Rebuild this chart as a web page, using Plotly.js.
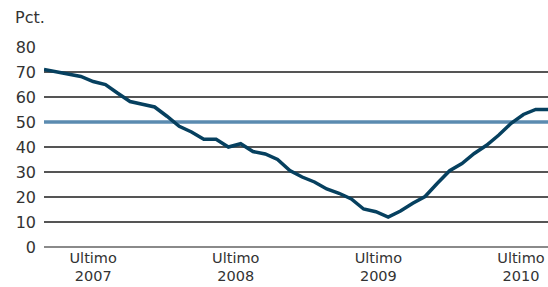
<!DOCTYPE html>
<html>
<head>
<meta charset="utf-8">
<script src="https://cdn.plot.ly/plotly-3.0.1.min.js"></script>
<style>
html,body{margin:0;padding:0;background:#fff;}
#chart{width:548px;height:287px;}
</style>
</head>
<body>
<div id="chart"></div>
<script>
// Monthly observations (index 0 = first month shown)
const monthIndex = [0,1,2,3,4,5,6,7,8,9,10,11,12,13,14,15,16,17,18,19,20,
  21,22,23,24,25,26,27,28,29,30,31,32,33,34,35,36,37,38,39,40,41];
const pctValues = [71,70,69,68.2,66.2,65,61.5,58.2,57.1,56,52.3,48.3,46,43.1,43.1,40,41.3,38.2,37.2,35,30.6,
  28,26,23.2,21.5,19.2,15.2,14.1,12,14.4,17.5,20.2,25.5,30.5,33.4,37.4,40.7,44.8,49.5,53,55,55];
const thresholdX = [0, 41];
const thresholdY = [50, 50];
const tickPositions = [4, 15.6, 27.2, 38.8];
const tickLabels = ["Ultimo<br>2007","Ultimo<br>2008","Ultimo<br>2009","Ultimo<br>2010"];
const yTicks = [0,10,20,30,40,50,60,70,80];

const txtColor = "#333333";

const traces = [
  {x: thresholdX, y: thresholdY, type: "scatter", mode: "lines",
   line: {color: "#5b8bb0", width: 3.5}, hoverinfo: "skip"},
  {x: monthIndex, y: pctValues, type: "scatter", mode: "lines",
   line: {color: "#06405f", width: 3.5}, hoverinfo: "skip"}
];

const layout = {
  width: 548, height: 287,
  margin: {l: 44, r: 0, t: 47, b: 40, pad: 0},
  paper_bgcolor: "#ffffff", plot_bgcolor: "#ffffff",
  showlegend: false,
  font: {family: "DejaVu Sans, sans-serif", size: 15, color: txtColor},
  xaxis: {
    range: [0, 41], showgrid: false, zeroline: false, showline: false,
    tickmode: "array", tickvals: tickPositions, ticktext: tickLabels,
    ticks: "", ticklabelstandoff: 0,
    tickfont: {family: "DejaVu Sans, sans-serif", size: 14.5, color: txtColor},
    fixedrange: true
  },
  yaxis: {
    range: [0, 80], tickmode: "array", tickvals: yTicks,
    showgrid: true, gridcolor: "#555555", gridwidth: 1.2,
    zeroline: true, zerolinecolor: "#8a8a8a", zerolinewidth: 2,
    showline: false, ticks: "", ticklabelstandoff: 7,
    tickfont: {family: "DejaVu Sans, sans-serif", size: 16, color: txtColor},
    fixedrange: true
  },
  annotations: [
    {text: "Pct.", xref: "paper", yref: "paper", x: -0.062, y: 1.145,
     xanchor: "left", yanchor: "middle", showarrow: false,
     font: {family: "DejaVu Sans, sans-serif", size: 16, color: txtColor}}
  ]
};

Plotly.newPlot("chart", traces, layout, {displayModeBar: false, staticPlot: true});
</script>
</body>
</html>
